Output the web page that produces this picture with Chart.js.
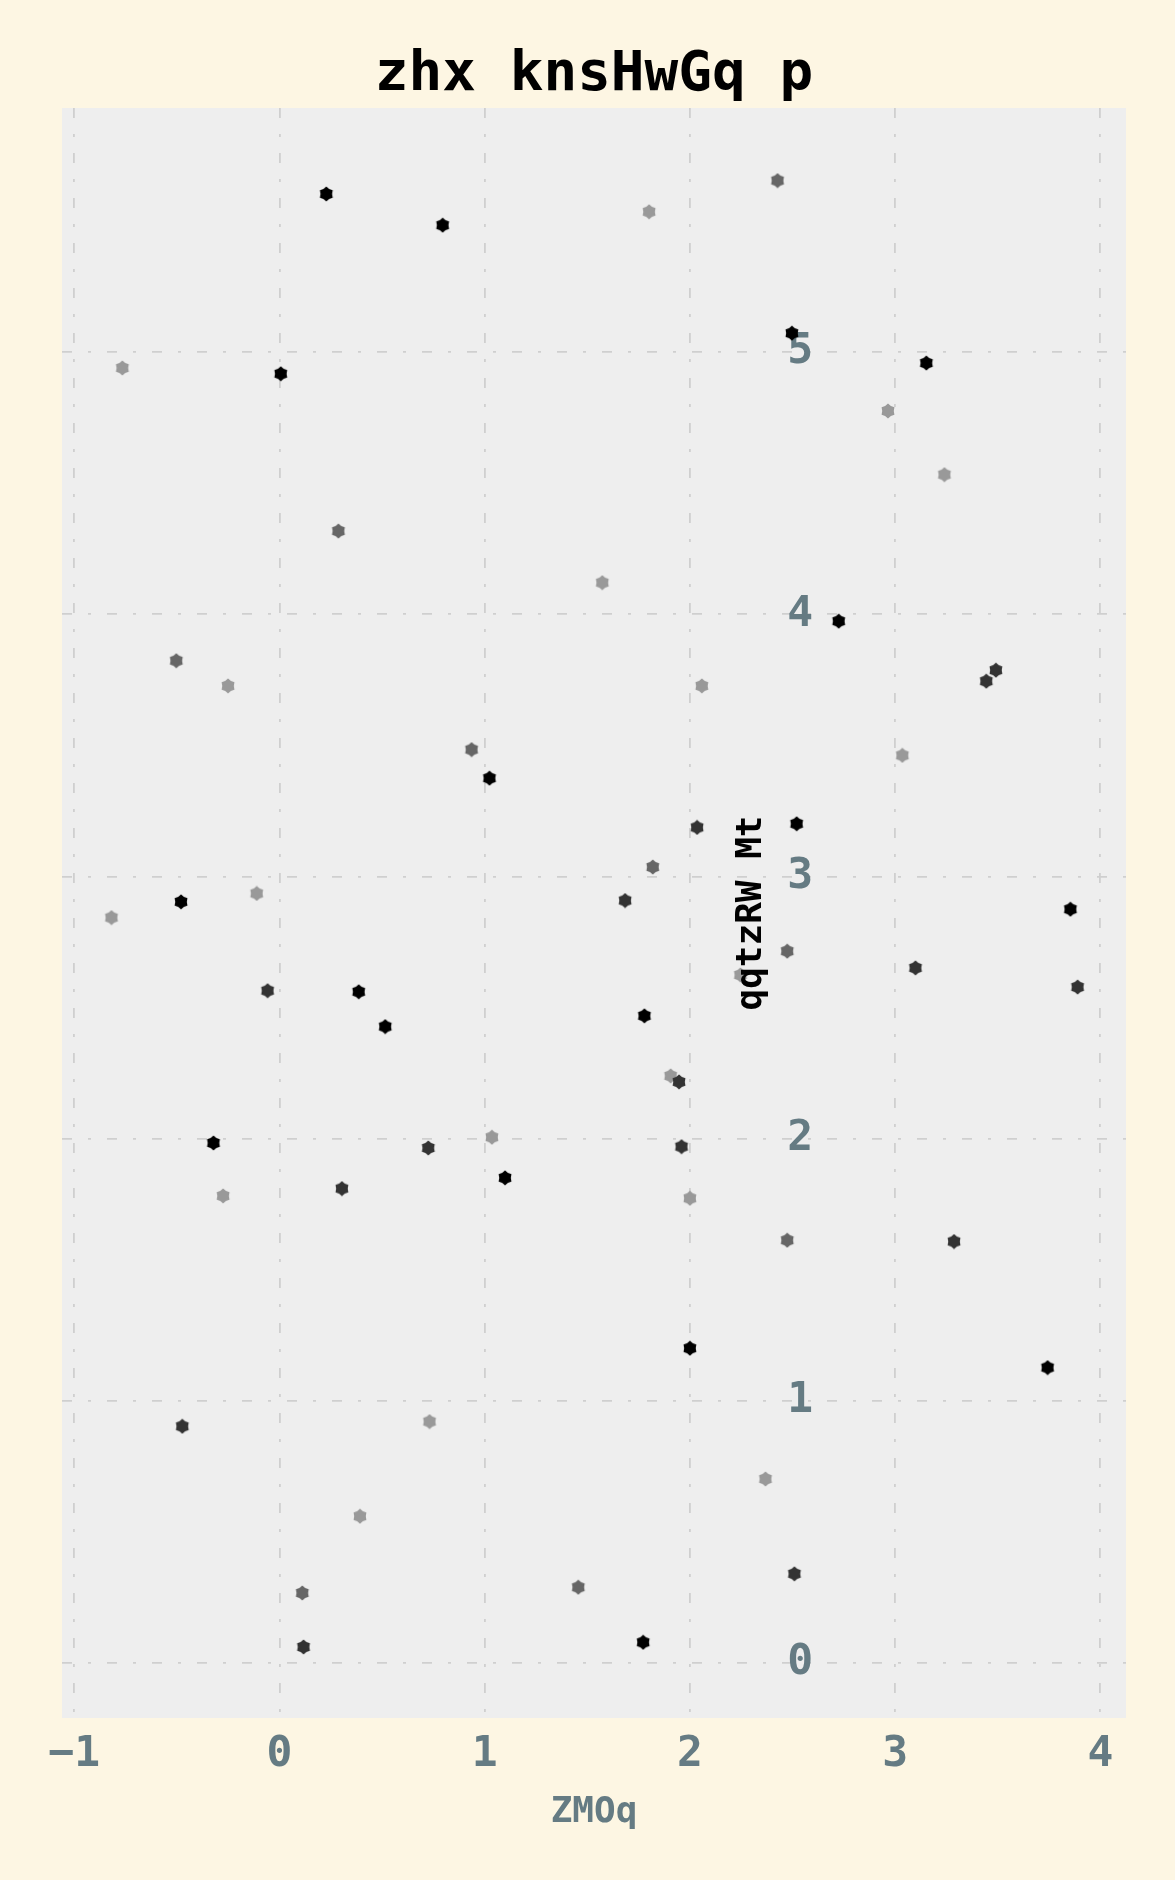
<!DOCTYPE html>
<html><head><meta charset="utf-8">
<script src="https://cdn.jsdelivr.net/npm/chart.js@4.4.1/dist/chart.umd.min.js"></script>
<style>html,body{margin:0;padding:0;background:#fdf6e3;} #wrap{width:1175px;height:1880px;}</style>
</head><body><div id="wrap"><canvas id="c" width="1175" height="1880"></canvas></div>
<script>
const chartTitle = 'zhx knsHwGq p';
const xAxisTitle = 'ZMOq';
const yAxisTitle = 'qqtzRW Mt';
const xTickValues = [-1, 0, 1, 2, 3, 4];
const xTickLabels = ['\u22121', '0', '1', '2', '3', '4'];
const yTickValues = [0, 1, 2, 3, 4, 5];
const yTickLabels = ['0', '1', '2', '3', '4', '5'];

const seriesColors = ['#000000', '#333333', '#666666', '#999999'];

const blackX = [0.228, 0.795, 2.497, 3.152, 0.006, 2.725, 1.023, 2.520, -0.480, 3.854, 0.386, 0.515, 1.778, -0.322, 1.099, 2.000, 3.743, 1.772];
const blackY = [5.604, 5.485, 5.073, 4.959, 4.918, 3.974, 3.375, 3.201, 2.903, 2.875, 2.560, 2.427, 2.468, 1.983, 1.850, 1.200, 1.126, 0.078];

const darkX = [3.491, 3.444, 2.035, 1.684, 3.099, 3.889, -0.058, 1.947, 0.725, 1.959, 0.304, 3.287, -0.474, 2.509, 0.117];
const darkY = [3.787, 3.745, 3.187, 2.908, 2.651, 2.578, 2.564, 2.216, 1.964, 1.969, 1.809, 1.607, 0.902, 0.339, 0.060];

const mediumX = [2.427, 0.287, -0.503, 0.936, 1.819, 2.474, 2.474, 1.456, 0.111];
const mediumY = [5.655, 4.318, 3.823, 3.484, 3.036, 2.715, 1.612, 0.288, 0.266];

const lightX = [1.801, -0.766, 2.965, 3.240, 1.573, -0.251, 2.058, 3.035, -0.111, -0.819, 2.246, 1.906, 1.035, -0.275, 2.000, 0.731, 2.368, 0.392];
const lightY = [5.536, 4.940, 4.776, 4.533, 4.121, 3.727, 3.727, 3.462, 2.935, 2.843, 2.624, 2.239, 2.005, 1.781, 1.772, 0.920, 0.701, 0.559];

const seriesX = [blackX, darkX, mediumX, lightX];
const seriesY = [blackY, darkY, mediumY, lightY];

const FONT = "'DejaVu Sans Mono', monospace";
const SLATE = '#657b83';
const yAxisAt = 2.6;

function makeMarker(color) {
  const s = 16, c = document.createElement('canvas');
  c.width = s; c.height = s;
  const g = c.getContext('2d');
  g.fillStyle = color;
  g.beginPath();
  const n = 6, ro = 7.4, ri = 5.8, cx = s / 2, cy = s / 2;
  for (let i = 0; i < n * 2; i++) {
    const r = i % 2 === 0 ? ro : ri;
    const a = -Math.PI / 2 + i * Math.PI / n;
    const px = cx + r * Math.cos(a), py = cy + r * Math.sin(a);
    if (i === 0) g.moveTo(px, py); else g.lineTo(px, py);
  }
  g.closePath();
  g.fill();
  return c;
}

const datasets = seriesX.map((xs, k) => ({
  data: xs.map((x, i) => ({x: x, y: seriesY[k][i]})),
  pointStyle: makeMarker(seriesColors[k]),
  backgroundColor: seriesColors[k],
  borderColor: seriesColors[k],
  pointRadius: 7,
  showLine: false
}));

const bgPlugin = {
  id: 'bg',
  beforeDraw(chart) {
    const {ctx, chartArea: a} = chart;
    ctx.save();
    ctx.fillStyle = '#fdf6e3';
    ctx.fillRect(0, 0, chart.width, chart.height);
    ctx.fillStyle = '#eeeeee';
    ctx.fillRect(a.left, a.top, a.right - a.left, a.bottom - a.top);
    ctx.restore();
  }
};

const yTitlePlugin = {
  id: 'ytitle',
  afterDraw(chart) {
    const {ctx, chartArea: a} = chart;
    const px = chart.scales.x.getPixelForValue(yAxisAt) - 61;
    ctx.save();
    ctx.translate(px, (a.top + a.bottom) / 2);
    ctx.rotate(-Math.PI / 2);
    ctx.font = 'bold 36px ' + FONT;
    ctx.fillStyle = '#000000';
    ctx.textAlign = 'center';
    ctx.textBaseline = 'middle';
    ctx.fillText(yAxisTitle, 0, 0);
    ctx.restore();
  }
};

new Chart(document.getElementById('c'), {
  type: 'scatter',
  data: {datasets: datasets},
  plugins: [bgPlugin, yTitlePlugin],
  options: {
    responsive: false,
    animation: false,
    devicePixelRatio: 1,
    layout: {padding: {left: 62, right: 49, top: 0, bottom: 0}},
    plugins: {
      legend: {display: false},
      tooltip: {enabled: false},
      title: {
        display: true, text: chartTitle, color: '#000000',
        font: {family: FONT, size: 56, weight: 'bold', lineHeight: 1.0},
        padding: {top: 47, bottom: 5}
      }
    },
    scales: {
      x: {
        type: 'linear', position: 'bottom', min: -1.06, max: 4.125,
        afterBuildTicks: s => { s.ticks = xTickValues.map(v => ({value: v})); },
        afterFit: s => { s.height = 162; },
        ticks: {
          callback: (v, i) => xTickLabels[i],
          color: SLATE, font: {family: FONT, size: 43, weight: 'bold'},
          padding: 11, autoSkip: false, maxRotation: 0
        },
        grid: {color: '#cfcfcf', lineWidth: 1.8, drawTicks: false},
        border: {display: false, dash: [10, 16, 3, 16]},
        title: {
          display: true, text: xAxisTitle, color: SLATE,
          font: {family: FONT, size: 36, weight: 'bold'},
          padding: {top: 10, bottom: 46}
        }
      },
      y: {
        type: 'linear', position: {x: yAxisAt}, min: -0.211, max: 5.932,
        afterBuildTicks: s => { s.ticks = yTickValues.map(v => ({value: v})); },
        ticks: {
          callback: (v, i) => yTickLabels[i],
          color: SLATE, font: {family: FONT, size: 43, weight: 'bold'},
          padding: 0, autoSkip: false
        },
        grid: {color: '#cfcfcf', lineWidth: 1.8, drawTicks: false},
        border: {display: false, dash: [10, 16, 3, 16]},
        title: {display: false}
      }
    }
  }
});
</script>
</body></html>
